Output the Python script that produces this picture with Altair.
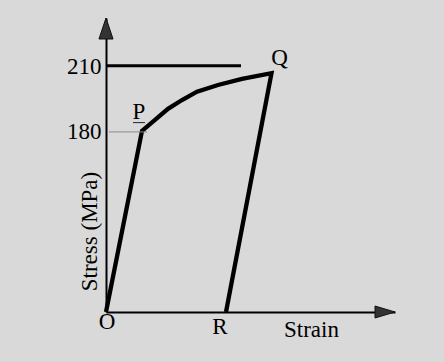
import altair as alt
import pandas as pd

# ---- data (schematic stress-strain curve) ----
curve_strain = [0.00, 0.36, 0.49, 0.62, 0.76, 0.91, 1.12, 1.36, 1.655, 1.20]
curve_stress = [0.0, 180.5, 185.9, 191.2, 195.3, 199.1, 202.1, 204.8, 207.3, 0.0]

y_tick_values = [180, 210]
yield_level = 180          # thin grey marker at P
limit_level = 210.5        # thick horizontal line
limit_line_strain = [0.00, 1.35]
yield_line_strain = [0.03, 0.41]
p_underline_strain = [0.27, 0.39]
p_underline_stress = 184.6

x_max = 2.89
y_max = 230

point_O = (0.00, 0.0)
point_P = (0.36, 180.5)
point_Q = (1.655, 207.3)
point_R = (1.20, 0.0)

# ---- tables ----
curve_df = pd.DataFrame({"i": list(range(len(curve_strain))),
                         "strain": curve_strain, "stress": curve_stress})
rules_df = pd.DataFrame({
    "strain": [limit_line_strain[0], yield_line_strain[0], p_underline_strain[0]],
    "strain2": [limit_line_strain[1], yield_line_strain[1], p_underline_strain[1]],
    "stress": [limit_level, yield_level, p_underline_stress],
    "kind": ["limit", "yield", "underline"],
})

FONT = "Liberation Serif"
W, H = 289, 294

xscale = alt.Scale(domain=[0, x_max], nice=False, zero=True)
yscale = alt.Scale(type="pow", exponent=2, domain=[0, y_max], nice=False, zero=True)

x_axis = alt.Axis(values=[], domain=True, domainColor="black", domainWidth=2,
                  ticks=False, labels=False, grid=False,
                  title="Strain", titleFont=FONT, titleFontSize=23,
                  titleFontWeight="normal", titleColor="black",
                  titleX=205, titleY=17, titleAlign="center", titleBaseline="middle")
y_axis = alt.Axis(values=y_tick_values, domain=True, domainColor="black", domainWidth=2,
                  ticks=False, grid=False, labelFont=FONT, labelFontSize=23,
                  labelColor="black", labelPadding=5, labelBaseline="middle",
                  title="Stress (MPa)", titleFont=FONT, titleFontSize=23,
                  titleFontWeight="normal", titleColor="black",
                  titleX=-17, titleY=213, titleAngle=270,
                  titleAlign="center", titleBaseline="middle")

X = alt.X("strain:Q", scale=xscale, axis=x_axis)
Y = alt.Y("stress:Q", scale=yscale, axis=y_axis)

curve = alt.Chart(curve_df).mark_line(color="black", strokeWidth=4.3,
                                      strokeJoin="miter").encode(
    x=X, y=Y, order="i:Q")

limit_rule = alt.Chart(rules_df[rules_df.kind == "limit"]).mark_rule(
    color="black", strokeWidth=3).encode(x=X, x2="strain2:Q", y=Y)
yield_rule = alt.Chart(rules_df[rules_df.kind == "yield"]).mark_rule(
    color="#8a8a8a", strokeWidth=1).encode(x=X, x2="strain2:Q", y=Y)
under_rule = alt.Chart(rules_df[rules_df.kind == "underline"]).mark_rule(
    color="#222222", strokeWidth=1).encode(x=X, x2="strain2:Q", y=Y)

arrow_up = alt.Chart(pd.DataFrame({"strain": [0.0], "stress": [y_max]})).mark_point(
    shape="M0,0 L0.67,2 L-0.67,2 Z", size=441, filled=True, fill="#333333",
    stroke="#111111", strokeWidth=1, opacity=1).encode(x=X, y=Y)
arrow_right = alt.Chart(pd.DataFrame({"strain": [x_max], "stress": [0.0]})).mark_point(
    shape="M0,0 L-2,-0.6 L-2,0.6 Z", size=400, filled=True, fill="#333333",
    stroke="#111111", strokeWidth=1, opacity=1).encode(x=X, y=Y)


def label(text, pt, dx, dy, size=23):
    df = pd.DataFrame({"strain": [pt[0]], "stress": [pt[1]], "t": [text]})
    return alt.Chart(df).mark_text(font=FONT, fontSize=size, color="black",
                                   align="center", baseline="middle",
                                   dx=dx, dy=dy).encode(x=X, y=Y, text="t:N")


labels = [
    label("O", point_O, 1, 10),
    label("P", point_P, -3, -19),
    label("Q", point_Q, 8, -15),
    label("R", point_R, -6, 15),
]

chart = alt.layer(curve, limit_rule, yield_rule, under_rule, arrow_up, arrow_right,
                  *labels).properties(
    width=W, height=H,
    padding={"left": 106, "top": 18, "right": 444 - 106 - W, "bottom": 362 - 18 - H},
    autosize=alt.AutoSizeParams(type="none"),
    background="#d9d9d9",
).configure_view(strokeWidth=0)

chart.save("out.html", embed_options={"renderer": "svg", "actions": False})
